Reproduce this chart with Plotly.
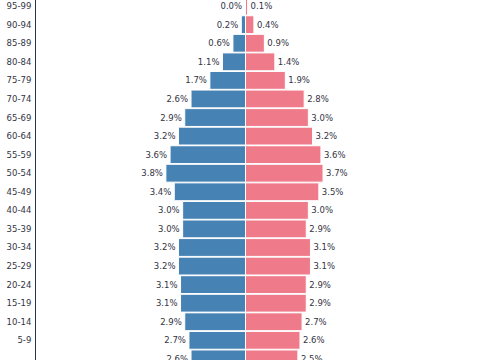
import plotly.graph_objects as go

age_groups = ["0-4", "5-9", "10-14", "15-19", "20-24", "25-29", "30-34", "35-39",
              "40-44", "45-49", "50-54", "55-59", "60-64", "65-69", "70-74",
              "75-79", "80-84", "85-89", "90-94", "95-99"]
male_pct = [2.6, 2.7, 2.9, 3.1, 3.1, 3.2, 3.2, 3.0, 3.0, 3.4, 3.8, 3.6, 3.2, 2.9, 2.6,
            1.7, 1.1, 0.6, 0.2, 0.02]
female_pct = [2.5, 2.6, 2.7, 2.9, 2.9, 3.1, 3.1, 2.9, 3.0, 3.5, 3.7, 3.6, 3.2, 3.0, 2.8,
              1.9, 1.4, 0.9, 0.4, 0.1]

pos = list(range(len(age_groups)))
male_color = "#4682B4"
female_color = "#EF7A8A"
text_color = "#333344"
font_family = "DejaVu Sans"
font_size = 8.5

fig = go.Figure()
fig.add_trace(go.Bar(
    y=pos, x=[-v for v in male_pct], orientation="h", name="Male",
    marker=dict(color=male_color, line=dict(color="white", width=1)),
    text=[f"{v:.1f}%" for v in male_pct], textposition="outside",
    textfont=dict(family=font_family, size=font_size, color=text_color),
    hoverinfo="skip",
))
fig.add_trace(go.Bar(
    y=pos, x=female_pct, orientation="h", name="Female",
    marker=dict(color=female_color, line=dict(color="white", width=1)),
    text=[f"{v:.1f}%" for v in female_pct], textposition="outside",
    textfont=dict(family=font_family, size=font_size, color=text_color),
    hoverinfo="skip",
))

fig.update_layout(
    width=480, height=360,
    margin=dict(l=36, r=25, t=0, b=0, autoexpand=False),
    barmode="relative", bargap=0.04,
    showlegend=False,
    plot_bgcolor="white", paper_bgcolor="white",
    font=dict(family=font_family, size=font_size, color=text_color),
    uniformtext=dict(minsize=font_size, mode="show"),
)
fig.update_xaxes(range=[-10, 10], showgrid=False, zeroline=False,
                 showticklabels=False, showline=False, automargin=False)
fig.update_yaxes(range=[-0.06, 19.33], tickmode="array", tickvals=pos,
                 ticktext=age_groups, showgrid=False, zeroline=False,
                 showline=True, linecolor="#2a3050", linewidth=1,
                 ticks="", ticklabelstandoff=2, automargin=False,
                 tickfont=dict(family=font_family, size=font_size, color=text_color))

fig.write_html("out.html",
               config={"displayModeBar": False},
               post_script="document.body.style.margin='0';document.body.style.padding='0';")
